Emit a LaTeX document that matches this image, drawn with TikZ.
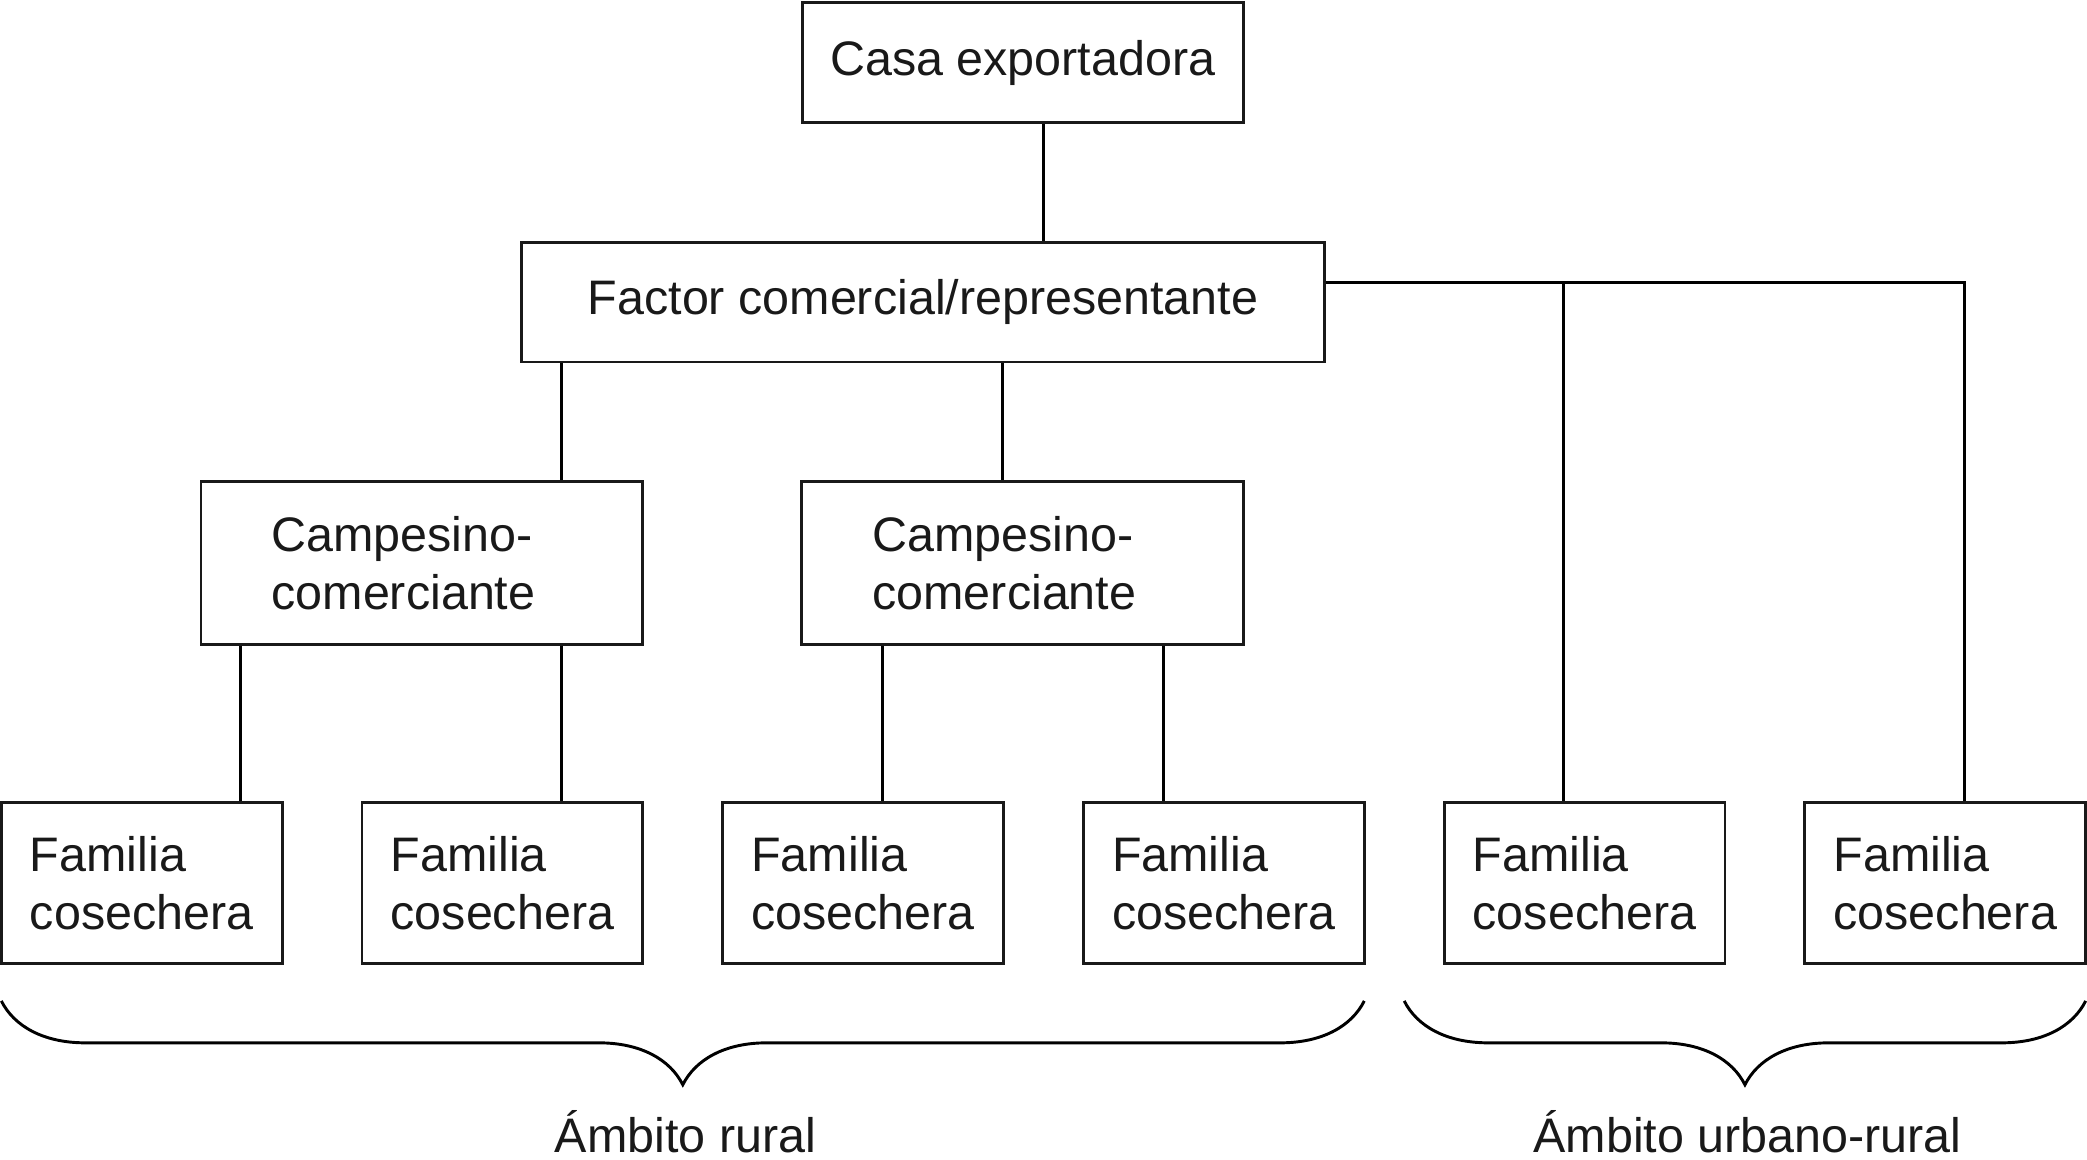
\documentclass[tikz,border=0pt]{standalone}
\usepackage{fontspec}
\setmainfont{Liberation Sans}
\usetikzlibrary{decorations.pathreplacing}
\begin{document}
\begin{tikzpicture}
        [x=0.5pt,y=-0.5pt,line width=1.1pt,
        every node/.style={font=\fontsize{18.2}{22}\selectfont,text=black!90},
        box/.style={rectangle,draw=black!90,line width=1.1pt,inner sep=0pt,align=center},
        head/.style={box,minimum height=45pt},
        trader/.style={box,minimum height=61pt,text width=113pt,inner xsep=26.5pt,align=left},
        family/.style={box,minimum height=60.5pt,text width=84pt,inner xsep=10.75pt,align=left},
        bracket/.style={decorate,decoration={brace,amplitude=31.5pt,mirror},line width=1.1pt},
        ]
        \useasboundingbox (0,0) rectangle (1568,870.8);
        \node[head,minimum width=165.5pt] (casa) at (768.5, 47) {Casa exportadora};
        \node[head,minimum width=301.5pt] (factor) at (693.5, 227) {Factor comercial/representante};
        \node[trader] (camp-1) at (317, 423) {Campesino-\\comerciante};
        \node[trader] (camp-2) at (768.5, 423) {Campesino-\\comerciante};
        \node[family] (fam-1) at (106.5, 663.5) {Familia\\cosechera};
        \node[family] (fam-2) at (377.5, 663.5) {Familia\\cosechera};
        \node[family] (fam-3) at (648.5, 663.5) {Familia\\cosechera};
        \node[family] (fam-4) at (919.5, 663.5) {Familia\\cosechera};
        \node[family] (fam-5) at (1190.5, 663.5) {Familia\\cosechera};
        \node[family] (fam-6) at (1461.5, 663.5) {Familia\\cosechera};
        % drop lines
        \coordinate (drop-0) at (784, 0);
        \coordinate (drop-1) at (422, 0);
        \coordinate (drop-2) at (753, 0);
        \coordinate (drop-3) at (181, 0);
        \coordinate (drop-4) at (663, 0);
        \coordinate (drop-5) at (874, 0);
        \coordinate (drop-6) at (1175, 0);
        \coordinate (drop-7) at (1476, 0);
        \coordinate (split) at ([yshift=7.5pt]factor.east);
        \draw (casa.south -| drop-0) -- (factor.north -| drop-0);
        \draw (factor.south -| drop-1) -- (camp-1.north -| drop-1);
        \draw (factor.south -| drop-2) -- (camp-2.north -| drop-2);
        \draw (camp-1.south -| drop-3) -- (fam-1.north -| drop-3);
        \draw (camp-1.south -| drop-1) -- (fam-2.north -| drop-1);
        \draw (camp-2.south -| drop-4) -- (fam-3.north -| drop-4);
        \draw (camp-2.south -| drop-5) -- (fam-4.north -| drop-5);
        \draw (split) -| (fam-6.north -| drop-7);
        \draw (split -| drop-6) -- (fam-5.north -| drop-6);
        % braces
        \coordinate (rural-l) at (1, 752);
        \coordinate (rural-r) at (1025, 752);
        \coordinate (urban-l) at (1055, 752);
        \coordinate (urban-r) at (1567, 752);
        \draw[bracket] (rural-l) -- (rural-r);
        \draw[bracket] (urban-l) -- (urban-r);
        \node (rural) at (515, 850) {Ámbito rural};
        \node (urban) at (1313, 850) {Ámbito urbano-rural};
    \end{tikzpicture}
\end{document}
